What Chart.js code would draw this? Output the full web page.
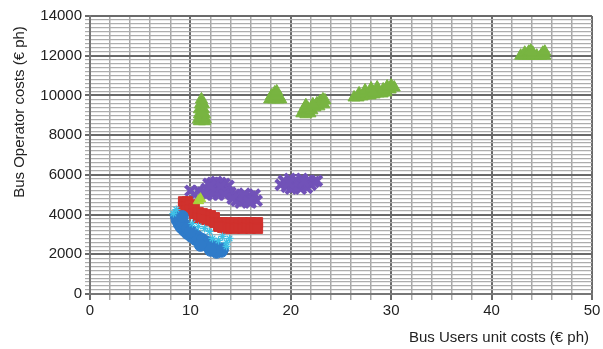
<!DOCTYPE html>
<html>
<head>
<meta charset="utf-8">
<script src="https://cdn.jsdelivr.net/npm/chart.js@4.4.1/dist/chart.umd.min.js"></script>
<style>
  html, body { margin: 0; padding: 0; background: #ffffff; }
  #wrap { width: 603px; height: 349px; }
</style>
</head>
<body>
<div id="wrap"><canvas id="c" width="603" height="349"></canvas></div>
<script>
// Bus users' unit cost (€ per hour) against bus operator cost (€ per hour), one cloud per scenario group.
const greenTriangles = [
  [11.1, 9800], [11.0, 9550], [11.3, 9550], [10.9, 9300], [11.3, 9300], [10.9, 9050], [11.4, 9050],
  [10.8, 8800], [11.1, 8800], [11.5, 8800], [10.9, 8700], [11.4, 8700], [11.2, 9150],
  [17.9, 9800], [18.3, 9800], [18.7, 9800], [19.0, 9800], [18.1, 10000], [18.5, 10050], [18.8, 9950],
  [18.4, 10150], [18.6, 10200],
  [21.1, 9100], [21.5, 9050], [21.9, 9100], [21.3, 9300], [21.7, 9350], [22.1, 9250], [22.4, 9400],
  [22.6, 9600], [22.9, 9700], [23.2, 9800], [23.4, 9750], [22.8, 9450], [23.3, 9550], [21.5, 9500], [22.2, 9550],
  [26.3, 9900], [26.7, 9900], [27.1, 9950], [27.5, 10000], [27.9, 10000], [28.3, 10050], [28.7, 10100],
  [29.1, 10100], [29.5, 10150], [29.9, 10300], [30.3, 10400], [26.8, 10100], [27.4, 10250], [28.0, 10350],
  [28.6, 10400], [29.2, 10300], [28.2, 10150], [30.0, 10500], [29.6, 10450],
  [42.9, 12000], [43.3, 12000], [43.7, 12000], [44.1, 12000], [44.5, 12000], [44.9, 12000], [45.3, 12000],
  [43.3, 12150], [43.7, 12200], [44.1, 12150], [45.1, 12150], [45.3, 12200], [43.9, 12250]
];
const limeTriangles = [[10.8, 4700], [11.0, 4800]];
const purpleCrosses = [
  [10.0, 5200], [10.4, 5000], [10.8, 5200], [11.2, 5100], [11.6, 5300], [11.8, 5550], [12.2, 5600],
  [12.6, 5650], [13.0, 5600], [13.4, 5550], [13.8, 5450], [12.0, 5250], [12.4, 5350], [12.8, 5300],
  [13.2, 5200], [13.6, 5150], [12.2, 5000], [12.8, 5000], [14.0, 5100], [14.4, 5000], [14.8, 4900],
  [15.2, 4800], [15.6, 4800], [16.0, 4900], [16.4, 5000], [16.6, 4700], [15.0, 4600], [15.4, 5050],
  [14.6, 4700], [16.0, 4600], [11.6, 5000], [12.4, 5150], [13.0, 5400], [13.4, 5000], [12.0, 5450],
  [14.2, 4800], [15.3, 4950], [15.8, 4650],
  [19.0, 5500], [19.3, 5700], [19.6, 5400], [19.9, 5800], [20.2, 5550], [20.5, 5750], [20.8, 5450],
  [21.1, 5800], [21.4, 5550], [21.7, 5700], [22.0, 5500], [22.3, 5650], [22.6, 5700], [20.0, 5300],
  [21.0, 5300], [21.6, 5350], [19.5, 5600], [20.6, 5600], [20.3, 5400], [21.3, 5650], [19.8, 5600]
];
const redSquares = [
  [9.3, 4650], [9.3, 4400], [9.3, 4200], [9.7, 4650], [9.7, 4400], [9.7, 4200], [10.0, 4500], [10.0, 4250],
  [10.4, 4300], [10.4, 4050], [10.8, 4100], [10.8, 3850], [11.2, 4050], [11.2, 3800], [11.6, 4000],
  [11.6, 3750], [12.0, 3950], [12.0, 3700], [12.4, 3850], [12.4, 3600], [12.8, 3600], [13.2, 3600],
  [13.6, 3600], [14.0, 3550], [14.4, 3600], [14.8, 3550], [15.2, 3600], [15.6, 3550], [16.0, 3600],
  [16.4, 3550], [16.7, 3600], [13.2, 3350], [13.6, 3300], [14.0, 3350], [14.4, 3300], [14.8, 3350],
  [15.2, 3300], [15.6, 3350], [16.0, 3300], [16.4, 3350], [16.7, 3300], [12.8, 3400]
];
const blueCircles = [
  [8.6, 3900], [8.7, 3700], [8.9, 3500], [9.1, 3350], [9.4, 3200], [9.7, 3050], [10.1, 2900], [10.5, 2750],
  [10.9, 2650], [11.3, 2500], [11.8, 2400], [12.3, 2300], [12.8, 2200], [13.1, 2150], [9.0, 3750],
  [9.3, 3550], [9.7, 3300], [10.2, 3100], [10.7, 2900], [11.2, 2750], [11.7, 2600], [12.2, 2450],
  [12.7, 2350], [13.2, 2250], [12.6, 2100], [9.2, 3900], [10.0, 3150], [11.0, 2450], [12.0, 2200]
];
const cyanStars = [
  [8.3, 4050], [8.6, 4250], [10.2, 3550], [10.8, 3400], [12.8, 2700], [13.2, 2900], [13.6, 2600],
  [13.9, 2800], [13.6, 2400], [12.2, 2800], [11.4, 3300], [11.9, 3150]
];

const xTicks = [0, 10, 20, 30, 40, 50];
const yTicks = [0, 2000, 4000, 6000, 8000, 10000, 12000, 14000];

const toXY = pts => pts.map(p => ({ x: p[0], y: p[1] }));
const FONT = "'Liberation Sans', Arial, sans-serif";

// Axis titles placed beside the axes rather than centred on them.
const axisTitles = {
  id: 'axisTitles',
  afterDraw(chart) {
    const { ctx, chartArea } = chart;
    ctx.save();
    ctx.fillStyle = '#222222';
    ctx.font = '15px ' + FONT;
    ctx.textBaseline = 'middle';
    ctx.textAlign = 'right';
    ctx.fillText('Bus Users unit costs (€ ph)', chartArea.right - 3, 338);
    ctx.translate(20, chartArea.top + 96);
    ctx.rotate(-Math.PI / 2);
    ctx.textAlign = 'center';
    ctx.fillText('Bus Operator costs (€ ph)', 0, 0);
    ctx.restore();
  }
};

const isMajor = (v, step) => Math.abs(Math.round(v / step) * step - v) < 1e-6;

new Chart(document.getElementById('c'), {
  type: 'scatter',
  data: {
    datasets: [
      { data: toXY(limeTriangles), pointStyle: 'triangle', pointRadius: 6, backgroundColor: '#A6D53A', borderColor: '#A6D53A', borderWidth: 1 },
      { data: toXY(cyanStars), pointStyle: 'star', pointRadius: 4, backgroundColor: '#3FC1E6', borderColor: '#3FC1E6', borderWidth: 1.2 },
      { data: toXY(blueCircles), pointStyle: 'circle', pointRadius: 6, backgroundColor: '#2F7BC9', borderColor: '#2F7BC9', borderWidth: 1 },
      { data: toXY(redSquares), pointStyle: 'rect', pointRadius: 7, backgroundColor: '#D0312D', borderColor: '#D0312D', borderWidth: 1 },
      { data: toXY(purpleCrosses), pointStyle: 'crossRot', pointRadius: 7, backgroundColor: '#7152B8', borderColor: '#7152B8', borderWidth: 4 },
      { data: toXY(greenTriangles), pointStyle: 'triangle', pointRadius: 7, backgroundColor: '#78B441', borderColor: '#78B441', borderWidth: 1 }
    ]
  },
  options: {
    responsive: false,
    animation: false,
    events: [],
    layout: { padding: { top: 16, right: 5, left: 0, bottom: 0 } },
    plugins: { legend: { display: false }, tooltip: { enabled: false } },
    scales: {
      x: {
        type: 'linear', min: 0, max: 50,
        afterFit(s) { s.height = 55; s.paddingLeft = 0; s.paddingRight = 0; },
        ticks: {
          stepSize: 2, autoSkip: false, maxTicksLimit: 1000, maxRotation: 0, padding: 2,
          color: '#222222', font: { family: FONT, size: 15 },
          callback: v => xTicks.includes(Math.round(v)) && isMajor(v, 10) ? String(Math.round(v)) : ''
        },
        grid: {
          color: c => isMajor(c.tick.value, 10) ? '#6a6a6a' : '#a9a9a9',
          lineWidth: c => isMajor(c.tick.value, 10) ? 2 : 1.5,
          tickLength: 6
        },
        border: { color: '#777777', width: 2 }
      },
      y: {
        type: 'linear', min: 0, max: 14000,
        afterFit(s) { s.width = 90; s.paddingTop = 0; s.paddingBottom = 0; },
        ticks: {
          stepSize: 200, autoSkip: false, maxTicksLimit: 1000, padding: 3,
          color: '#222222', font: { family: FONT, size: 15 },
          callback: v => yTicks.includes(Math.round(v)) ? String(Math.round(v)) : ''
        },
        grid: {
          color: c => isMajor(c.tick.value, 2000) ? '#6a6a6a' : '#adadad',
          lineWidth: c => isMajor(c.tick.value, 2000) ? 2 : 1.2,
          tickLength: 5
        },
        border: { color: '#777777', width: 2 }
      }
    }
  },
  plugins: [axisTitles]
});
</script>
</body>
</html>
